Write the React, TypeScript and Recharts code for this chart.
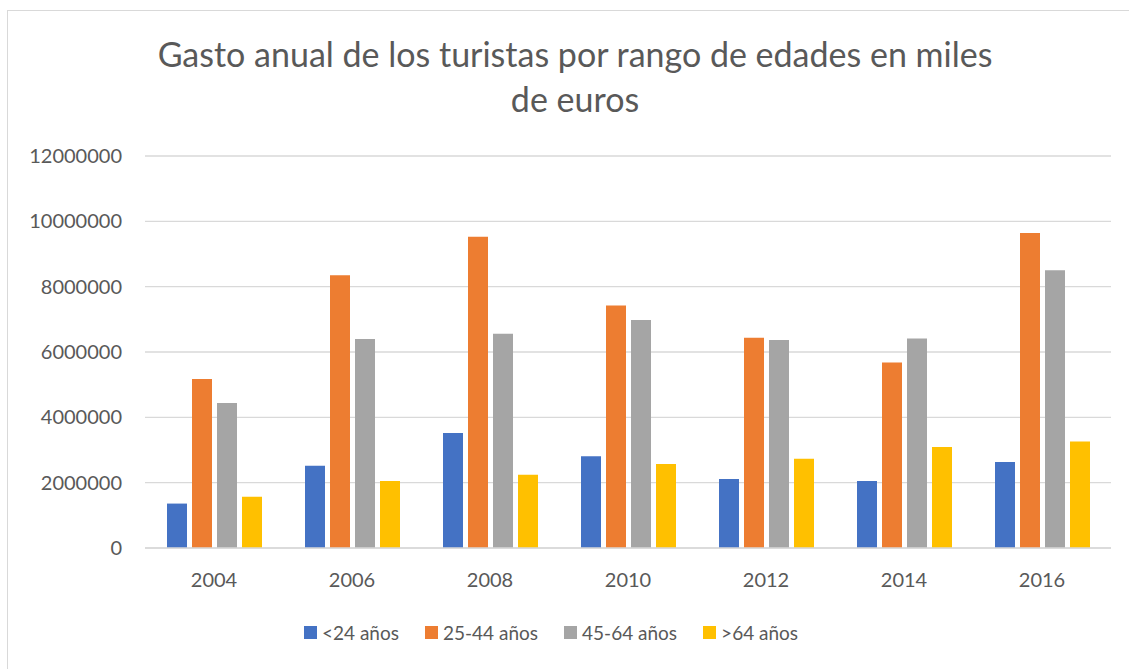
import React from 'react';
import { BarChart, Bar, XAxis, YAxis, CartesianGrid, Legend } from 'recharts';

// Years on the category axis
const years = ['2004', '2006', '2008', '2010', '2012', '2014', '2016'];

// Spending per age group (thousands of euros)
const under24 = [1360000, 2520000, 3520000, 2810000, 2110000, 2050000, 2630000];
const age25to44 = [5170000, 8350000, 9530000, 7420000, 6440000, 5680000, 9640000];
const age45to64 = [4440000, 6400000, 6560000, 6980000, 6370000, 6410000, 8500000];
const over64 = [1570000, 2050000, 2240000, 2570000, 2730000, 3090000, 3260000];

const yTicks = [0, 2000000, 4000000, 6000000, 8000000, 10000000, 12000000];

const series = [
  { key: 'a', name: '<24 años', color: '#4472C4', values: under24 },
  { key: 'b', name: '25-44 años', color: '#ED7D31', values: age25to44 },
  { key: 'c', name: '45-64 años', color: '#A5A5A5', values: age45to64 },
  { key: 'd', name: '>64 años', color: '#FFC000', values: over64 },
];

const data = years.map((year, i) => {
  const row: Record<string, string | number> = { year };
  series.forEach((s) => {
    row[s.key] = s.values[i];
  });
  return row;
});

const FONT = 'Lato, "Open Sans", sans-serif';
const TEXT = '#595959';

const LegendContent = () => (
  <div style={{ display: 'flex', alignItems: 'center', fontFamily: FONT, fontSize: 19, color: TEXT, whiteSpace: 'nowrap' }}>
    {series.map((s) => (
      <div key={s.key} style={{ display: 'flex', alignItems: 'center', marginRight: 26 }}>
        <span style={{ width: 13, height: 13, background: s.color, marginRight: 5, display: 'inline-block' }} />
        <span>{s.name}</span>
      </div>
    ))}
  </div>
);

export default function App() {
  return (
    <div style={{ position: 'fixed', left: 0, top: 0, width: 1129, height: 669, background: '#fff', overflow: 'hidden' }}>
      <div
        style={{
          position: 'absolute',
          left: 7,
          top: 10,
          width: 1300,
          height: 800,
          border: '1.5px solid #D9D9D9',
        }}
      />
      <div
        style={{
          position: 'absolute',
          left: 25,
          top: 31,
          width: 1100,
          textAlign: 'center',
          fontFamily: FONT,
          fontSize: 34,
          lineHeight: '45px',
          color: TEXT,
        }}
      >
        Gasto anual de los turistas por rango de edades en miles
        <br />
        de euros
      </div>
      <div style={{ position: 'absolute', left: 0, top: 0 }}>
        <BarChart
          width={1129}
          height={669}
          data={data}
          margin={{ top: 156, right: 18, bottom: 91, left: 0 }}
          barSize={20}
          barGap={5}
        >
          <CartesianGrid vertical={false} stroke="#D9D9D9" strokeWidth={1.3} />
          <XAxis
            dataKey="year"
            height={30}
            axisLine={{ stroke: '#D9D9D9', strokeWidth: 1.3 }}
            tickLine={false}
            tickSize={0}
            tickMargin={25}
            tick={{ fill: TEXT, fontFamily: FONT, fontSize: 20 }}
          />
          <YAxis
            width={145}
            domain={[0, 12000000]}
            ticks={yTicks}
            axisLine={false}
            tickLine={false}
            tickSize={0}
            tickMargin={23}
            interval={0}
            tick={{ fill: TEXT, fontFamily: FONT, fontSize: 20 }}
          />
          {series.map((s) => (
            <Bar key={s.key} dataKey={s.key} name={s.name} fill={s.color} isAnimationActive={false} />
          ))}
          <Legend
            layout="horizontal"
            verticalAlign="middle"
            align="center"
            wrapperStyle={{ top: 621, left: 304, width: 'auto' }}
            content={<LegendContent />}
          />
        </BarChart>
      </div>
    </div>
  );
}
